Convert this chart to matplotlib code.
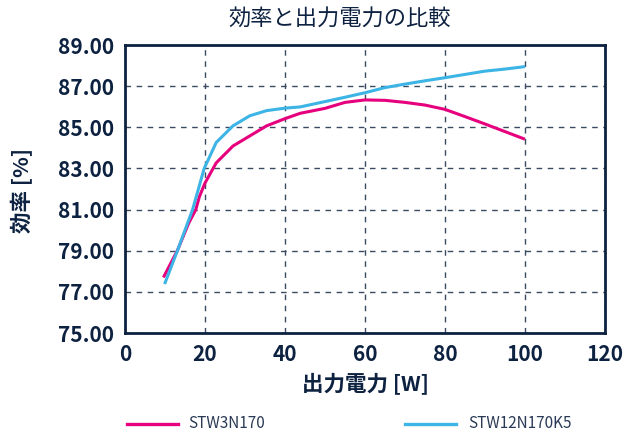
import matplotlib
matplotlib.use("Agg")
import matplotlib.pyplot as plt
from matplotlib.lines import Line2D

plt.rcParams['font.family'] = ['Liberation Sans Narrow', 'Noto Sans CJK JP', 'DejaVu Sans']

title = "効率と出力電力の比較"
xlabel = "出力電力 [W]"
ylabel = "効率 [%]"

x_pink = [9.6, 13.1, 15.9, 17.7, 18.6, 20, 22.8, 27, 31.2, 35.4, 40, 43.8, 50, 55, 60, 65, 70, 75, 80, 85, 90, 95, 100]
y_pink = [77.70, 79.01, 80.33, 81.0, 81.63, 82.29, 83.27, 84.09, 84.58, 85.07, 85.42, 85.68, 85.92, 86.21, 86.33, 86.31, 86.21, 86.08, 85.87, 85.52, 85.16, 84.79, 84.42]
x_blue = [9.9, 13.1, 16.9, 19.8, 22.8, 27, 31.2, 35.4, 40, 43.8, 50, 55, 60, 65, 70, 75, 80, 85, 90, 95, 100]
y_blue = [77.38, 79.0, 81.0, 83.0, 84.26, 85.07, 85.56, 85.81, 85.93, 85.99, 86.25, 86.46, 86.68, 86.93, 87.1, 87.26, 87.41, 87.57, 87.73, 87.83, 87.95]
series_names = ["STW3N170", "STW12N170K5"]
colors = ["#e6007e", "#3cb4e5"]

xticks = [0, 20, 40, 60, 80, 100, 120]
yticks = [75, 77, 79, 81, 83, 85, 87, 89]

navy = "#0d2140"
W, H = 625, 434

fig = plt.figure(figsize=(W/100, H/100), dpi=100)
ax = fig.add_axes([125/W, 1-333/H, 480/W, 288/H])

ax.plot(x_pink, y_pink, color=colors[0], lw=2.2, solid_capstyle='butt', solid_joinstyle='round')
ax.plot(x_blue, y_blue, color=colors[1], lw=2.2, solid_capstyle='butt', solid_joinstyle='round')

ax.set_xlim(0, 120)
ax.set_ylim(75, 89)
ax.set_xticks(xticks)
ax.set_yticks(yticks)
ax.set_xticklabels([str(t) for t in xticks])
ax.set_yticklabels([f"{t:.2f}" for t in yticks])
ax.tick_params(length=0, labelsize=15, colors=navy, pad=8)
for lab in ax.get_xticklabels() + ax.get_yticklabels():
    lab.set_fontweight('bold')
ax.grid(True, color="#3a4a60", ls=(0, (4, 4)), lw=1)
for s in ax.spines.values():
    s.set_color(navy)
    s.set_linewidth(2)

fig.text(340/W, 1-18/H, title, fontsize=16, color=navy, ha='center', va='center')
fig.text(365/W, 1-383/H, xlabel, fontsize=15.5, fontweight='bold', color=navy, ha='center', va='center')
fig.text(22/W, 1-190/H, ylabel, fontsize=15.5, fontweight='bold', color=navy, ha='center', va='center', rotation=90)

# legend
lx = [(127, 178, 188), (405, 456, 468)]
ly = 1 - 424/H
for (x0, x1, tx), c, name in zip(lx, colors, series_names):
    fig.add_artist(Line2D([x0/W, x1/W], [ly, ly], color=c, lw=2.4, transform=fig.transFigure))
    fig.text(tx/W, ly, name, fontsize=11, color="#2a3a55", ha='left', va='center')

fig.savefig("out.png", dpi=100)
